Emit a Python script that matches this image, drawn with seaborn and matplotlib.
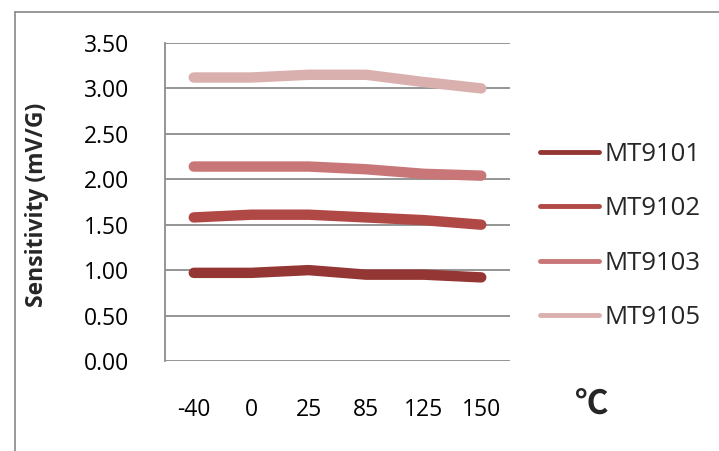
import pandas as pd
import matplotlib
matplotlib.use("Agg")
import matplotlib.pyplot as plt
import seaborn as sns
from matplotlib.lines import Line2D

temps = ["-40", "0", "25", "85", "125", "150"]
series_names = ["MT9101", "MT9102", "MT9103", "MT9105"]
mt9101 = [0.97, 0.97, 1.00, 0.95, 0.95, 0.92]
mt9102 = [1.58, 1.61, 1.61, 1.58, 1.55, 1.50]
mt9103 = [2.14, 2.14, 2.14, 2.11, 2.06, 2.04]
mt9105 = [3.12, 3.12, 3.15, 3.15, 3.07, 3.00]
colors = ["#943634", "#B04845", "#C87677", "#DAB0AF"]
y_ticks = [0.0, 0.5, 1.0, 1.5, 2.0, 2.5, 3.0, 3.5]

sns.set_theme(style="white")
plt.rcParams["font.family"] = ["Open Sans", "DejaVu Sans"]

rows = []
for name, vals in zip(series_names, [mt9101, mt9102, mt9103, mt9105]):
    for t, v in zip(temps, vals):
        rows.append({"temp": t, "value": v, "series": name})
df = pd.DataFrame(rows)

fig = plt.figure(figsize=(7.19, 4.51), dpi=100)
ax = fig.add_axes([0.2295, 0.1996, 0.4798, 0.7051])

# outer chart frame (cut off on right/bottom)
fig.add_artist(Line2D([15 / 719, 15 / 719], [0, 1 - 12 / 451], transform=fig.transFigure,
                      color="#888888", lw=1.2))
fig.add_artist(Line2D([15 / 719, 1], [1 - 12 / 451, 1 - 12 / 451], transform=fig.transFigure,
                      color="#888888", lw=1.2))

sns.lineplot(data=df, x="temp", y="value", hue="series", palette=colors, sort=False,
             linewidth=7.5, solid_capstyle="round", ax=ax, legend=True)

ax.set_xlim(-0.5, 5.5)
ax.set_ylim(0, 3.5)
ax.set_yticks(y_ticks)
ax.set_yticklabels([f"{v:.2f}" for v in y_ticks])
for v in y_ticks:
    ax.axhline(v, color="#8c8c8c", lw=1.3, zorder=0)
for s in ["top", "right", "bottom"]:
    ax.spines[s].set_visible(False)
ax.spines["left"].set_color("#8c8c8c")
ax.spines["left"].set_linewidth(1.3)
ax.tick_params(axis="y", length=0, pad=26, labelsize=16.5, colors="black")
ax.tick_params(axis="x", length=0, pad=27, labelsize=16.5, colors="black")
ax.set_xlabel("")
ax.set_ylabel("Sensitivity (mV/G)", fontsize=16.5, fontweight="bold")
ax.yaxis.set_label_coords(-0.335, 0.49)

handles, labels = ax.get_legend_handles_labels()
leg = fig.legend(handles, labels, loc="center left", bbox_to_anchor=(540 / 719, 1 - 236 / 451),
                 frameon=False, fontsize=18.5, handlelength=2.3, handletextpad=0.2,
                 labelspacing=1.15, borderpad=0, borderaxespad=0)
for line in leg.get_lines():
    line.set_linewidth(3.5)
    line.set_solid_capstyle("round")
ax.get_legend().remove()

fig.text(591 / 719, 1 - 404 / 451, "℃", fontsize=24, fontweight="bold",
         ha="center", va="center", family=["Noto Sans CJK SC", "DejaVu Sans"])

fig.savefig("out.png", dpi=100)
